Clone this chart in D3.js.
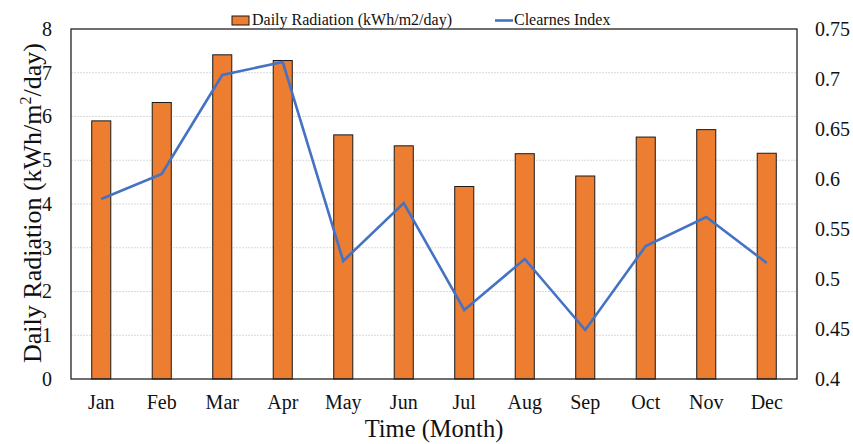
<!DOCTYPE html>
<html>
<head>
<meta charset="utf-8">
<script src="https://cdn.jsdelivr.net/npm/d3@7"></script>
<style>
  html, body { margin: 0; padding: 0; background: #fff; }
  svg { display: block; }
  svg text { font-family: "Liberation Serif", "Times New Roman", serif; }
</style>
</head>
<body>
<svg id="chart" width="853" height="444"></svg>
<script>
const months = ["Jan","Feb","Mar","Apr","May","Jun","Jul","Aug","Sep","Oct","Nov","Dec"];
const radiation = [5.90, 6.32, 7.41, 7.28, 5.58, 5.33, 4.40, 5.15, 4.64, 5.53, 5.70, 5.16];
const clearness = [0.580, 0.605, 0.704, 0.717, 0.518, 0.576, 0.469, 0.520, 0.449, 0.533, 0.562, 0.516];
const leftTicks = [0,1,2,3,4,5,6,7,8];
const rightTicks = [0.4,0.45,0.5,0.55,0.6,0.65,0.7,0.75];

const FONT = "Liberation Serif";
const svg = d3.select("#chart");
const m = {left: 71, right: 797, top: 29, bottom: 379};

const x = d3.scaleBand().domain(months).range([m.left, m.right]).paddingInner(0.685).paddingOuter(0.3425);
const yL = d3.scaleLinear().domain([0, 8]).range([m.bottom, m.top]);
const yR = d3.scaleLinear().domain([0.4, 0.75]).range([m.bottom, m.top]);

// gridlines
svg.append("g").selectAll("line").data(leftTicks.filter(d => d > 0 && d < 8)).join("line")
  .attr("x1", m.left).attr("x2", m.right)
  .attr("y1", d => yL(d)).attr("y2", d => yL(d))
  .attr("stroke", "#d9d9d9").attr("stroke-width", 1).attr("stroke-dasharray", "2,1");

// bars
svg.append("g").selectAll("rect").data(radiation).join("rect")
  .attr("x", (d, i) => x(months[i]))
  .attr("y", d => yL(d))
  .attr("width", x.bandwidth())
  .attr("height", d => yL(0) - yL(d))
  .attr("fill", "#ED7D31")
  .attr("stroke", "#1a1a1a").attr("stroke-width", 1);

// line
const line = d3.line()
  .x((d, i) => x(months[i]) + x.bandwidth() / 2)
  .y(d => yR(d));
svg.append("path").datum(clearness)
  .attr("d", line)
  .attr("fill", "none")
  .attr("stroke", "#4472C4").attr("stroke-width", 2.6)
  .attr("stroke-linejoin", "miter");

// frame
svg.append("rect")
  .attr("x", m.left).attr("y", m.top)
  .attr("width", m.right - m.left).attr("height", m.bottom - m.top)
  .attr("fill", "none").attr("stroke", "#222").attr("stroke-width", 1.3);

// left axis
const axL = svg.append("g").attr("transform", `translate(${m.left},0)`)
  .call(d3.axisLeft(yL).tickValues(leftTicks).tickSize(0).tickPadding(19).tickFormat(d3.format("d")));
axL.select(".domain").remove();
axL.attr("font-family", FONT);
axL.selectAll("text").attr("font-size", 20).attr("fill", "#111");

// right axis
const axR = svg.append("g").attr("transform", `translate(${m.right},0)`)
  .call(d3.axisRight(yR).tickValues(rightTicks).tickSize(0).tickPadding(18).tickFormat(d => String(+d.toFixed(2))));
axR.select(".domain").remove();
axR.attr("font-family", FONT);
axR.selectAll("text").attr("font-size", 20).attr("fill", "#111");

// bottom axis
const axB = svg.append("g").attr("transform", `translate(0,${m.bottom})`)
  .call(d3.axisBottom(x).tickSize(0).tickPadding(16));
axB.select(".domain").remove();
axB.attr("font-family", FONT);
axB.selectAll("text").attr("font-size", 20).attr("fill", "#111");

// axis titles
svg.append("text")
  .attr("x", (m.left + m.right) / 2).attr("y", 437)
  .attr("text-anchor", "middle").attr("font-size", 24.5).attr("fill", "#111").attr("font-family", FONT)
  .text("Time (Month)");

const yt = svg.append("text")
  .attr("transform", `translate(41,${(m.top + m.bottom) / 2 - 1}) rotate(-90)`)
  .attr("text-anchor", "middle").attr("font-size", 26).attr("fill", "#111").attr("font-family", FONT);
yt.append("tspan").text("Daily Radiation (kWh/m");
yt.append("tspan").attr("font-size", 16).attr("dy", -10).text("2");
yt.append("tspan").attr("dy", 10).text("/day)");

// legend
const lg = svg.append("g").attr("font-family", FONT);
lg.append("rect").attr("x", 232).attr("y", 16).attr("width", 17).attr("height", 9)
  .attr("fill", "#ED7D31").attr("stroke", "#1a1a1a").attr("stroke-width", 1);
lg.append("text").attr("x", 252).attr("y", 25).attr("font-size", 16).attr("fill", "#111")
  .text("Daily Radiation (kWh/m2/day)");
lg.append("line").attr("x1", 495).attr("x2", 513).attr("y1", 20.5).attr("y2", 20.5)
  .attr("stroke", "#4472C4").attr("stroke-width", 2.6);
lg.append("text").attr("x", 514).attr("y", 25).attr("font-size", 16).attr("fill", "#111")
  .text("Clearnes Index");
</script>
</body>
</html>
